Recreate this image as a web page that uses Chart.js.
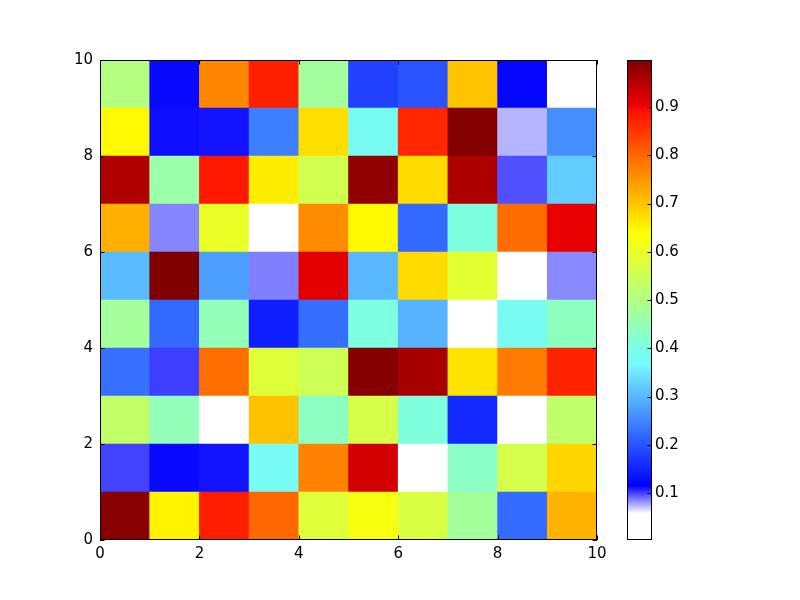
<!DOCTYPE html>
<html>
<head>
<meta charset="utf-8">
<script src="https://cdn.jsdelivr.net/npm/chart.js@4.4.0/dist/chart.umd.min.js"></script>
<style>
  html, body { margin: 0; padding: 0; background: #fff; }
  #wrap { position: relative; width: 800px; height: 600px; }
  #heat { position: absolute; left: 0; top: 0; }
  #cbar { position: absolute; left: 600px; top: 0; }
</style>
</head>
<body>
<div id="wrap">
  <canvas id="heat" width="800" height="600"></canvas>
  <canvas id="cbar" width="200" height="600"></canvas>
</div>
<script>
// cell values, one array per row, bottom row (y 0..1) first
const row0 = [0.990, 0.652, 0.875, 0.799, 0.579, 0.625, 0.570, 0.477, 0.222, 0.719];
const row1 = [0.100, 0.113, 0.111, 0.379, 0.770, 0.927, 0.050, 0.430, 0.562, 0.681];
const row2 = [0.531, 0.445, 0.0026, 0.703, 0.434, 0.563, 0.408, 0.154, 0.035, 0.528];
const row3 = [0.228, 0.101, 0.791, 0.578, 0.551, 0.993, 0.965, 0.669, 0.778, 0.871];
const row4 = [0.476, 0.221, 0.446, 0.146, 0.227, 0.404, 0.296, 0.010, 0.383, 0.438];
const row5 = [0.304, 0.9975, 0.276, 0.086, 0.912, 0.300, 0.677, 0.587, 0.040, 0.084];
const row6 = [0.723, 0.085, 0.600, 0.020, 0.761, 0.646, 0.221, 0.405, 0.793, 0.908];
const row7 = [0.955, 0.461, 0.882, 0.658, 0.555, 0.983, 0.676, 0.960, 0.097, 0.320];
const row8 = [0.647, 0.112, 0.111, 0.243, 0.673, 0.383, 0.867, 0.996, 0.074, 0.259];
const row9 = [0.505, 0.113, 0.766, 0.873, 0.474, 0.182, 0.199, 0.702, 0.114, 0.030];
const values = [row0, row1, row2, row3, row4, row5, row6, row7, row8, row9];

const xTicks = [0, 2, 4, 6, 8, 10];
const yTicks = [0, 2, 4, 6, 8, 10];
const cbarTicks = [0.1, 0.2, 0.3, 0.4, 0.5, 0.6, 0.7, 0.8, 0.9];

// colormap (white -> blue -> cyan -> yellow -> red -> dark red)
const cmapPos = [0, 0.055, 0.113, 0.365, 0.395, 0.64, 0.89, 0.91, 1];
const cmapCol = ['#ffffff', '#ffffff', '#0000ff', '#78f8ff', '#78ffe8', '#ffff00', '#ff1200', '#e80000', '#800000'];

const all = values.flat();
const vmin = Math.min(...all), vmax = Math.max(...all);

function hexRgb(h) {
  return [parseInt(h.substr(1, 2), 16), parseInt(h.substr(3, 2), 16), parseInt(h.substr(5, 2), 16)];
}
function colorOf(v) {
  const t = (v - vmin) / (vmax - vmin);
  let i = 0;
  while (i < cmapPos.length - 2 && t > cmapPos[i + 1]) i++;
  const f = Math.max(0, Math.min(1, (t - cmapPos[i]) / (cmapPos[i + 1] - cmapPos[i])));
  const a = hexRgb(cmapCol[i]), b = hexRgb(cmapCol[i + 1]);
  const c = a.map((x, k) => Math.round(x + (b[k] - x) * f));
  return 'rgb(' + c.join(',') + ')';
}

Chart.defaults.font.family = "'DejaVu Sans', sans-serif";
Chart.defaults.font.size = 15;
Chart.defaults.color = '#000';

// black frame + inward tick marks, like the matplotlib axes
function frameTicks(opt) {
  return {
    id: 'frameTicks',
    afterDatasetsDraw(chart) {
      const {ctx, chartArea: a, scales} = chart;
      const len = 4.5;
      ctx.save();
      ctx.strokeStyle = '#000';
      ctx.lineWidth = 1;
      ctx.beginPath();
      (opt.x || []).forEach(v => {
        const px = Math.round(scales.x.getPixelForValue(v)) + 0.5;
        ctx.moveTo(px, a.bottom); ctx.lineTo(px, a.bottom - len);
        ctx.moveTo(px, a.top); ctx.lineTo(px, a.top + len);
      });
      (opt.y || []).forEach(v => {
        const py = Math.round(scales.y.getPixelForValue(v)) + 0.5;
        if (opt.left) { ctx.moveTo(a.left, py); ctx.lineTo(a.left + len, py); }
        ctx.moveTo(a.right, py); ctx.lineTo(a.right - len, py);
      });
      ctx.stroke();
      ctx.strokeRect(Math.round(a.left) + 0.5, Math.round(a.top) + 0.5,
        Math.round(a.right - a.left) - 1, Math.round(a.bottom - a.top) - 1);
      ctx.restore();
    }
  };
}

const datasets = values.map((row, r) => ({
  data: row.map((v, c) => ({x: c + 0.5, y: [r, r + 1]})),
  backgroundColor: row.map(colorOf),
  borderWidth: 0,
  barPercentage: 1,
  categoryPercentage: 1,
  grouped: false
}));

new Chart(document.getElementById('heat'), {
  type: 'bar',
  data: {datasets: datasets},
  options: {
    responsive: false,
    animation: false,
    layout: {padding: {left: 60, right: 203, top: 60, bottom: 30}},
    plugins: {legend: {display: false}, tooltip: {enabled: false}},
    scales: {
      x: {
        type: 'linear', min: 0, max: 10, offset: false,
        afterBuildTicks: s => { s.ticks = xTicks.map(v => ({value: v})); },
        ticks: {padding: 5, color: '#000'},
        grid: {display: false, drawTicks: false, tickLength: 0},
        border: {display: false},
        afterFit: s => { s.height = 30; }
      },
      y: {
        type: 'linear', min: 0, max: 10,
        afterBuildTicks: s => { s.ticks = yTicks.map(v => ({value: v})); },
        ticks: {padding: 7, color: '#000'},
        grid: {display: false, drawTicks: false, tickLength: 0},
        border: {display: false},
        afterFit: s => { s.width = 40; }
      }
    }
  },
  plugins: [frameTicks({x: xTicks, y: yTicks, left: true})]
});

function cbarGradient(chart) {
  const {ctx, chartArea, scales} = chart;
  if (!chartArea) return '#fff';
  const g = ctx.createLinearGradient(0, scales.y.getPixelForValue(vmin), 0, scales.y.getPixelForValue(vmax));
  cmapPos.forEach((p, i) => g.addColorStop(p, cmapCol[i]));
  return g;
}

new Chart(document.getElementById('cbar'), {
  type: 'bar',
  data: {
    labels: [''],
    datasets: [{
      data: [[vmin, vmax]],
      backgroundColor: c => cbarGradient(c.chart),
      borderWidth: 0,
      barPercentage: 1,
      categoryPercentage: 1
    }]
  },
  options: {
    responsive: false,
    animation: false,
    layout: {padding: {left: 27, right: 108, top: 60, bottom: 60}},
    plugins: {legend: {display: false}, tooltip: {enabled: false}},
    scales: {
      x: {display: false},
      y: {
        position: 'right', min: vmin, max: vmax,
        afterBuildTicks: s => { s.ticks = cbarTicks.map(v => ({value: v})); },
        ticks: {padding: 3, color: '#000', callback: v => v.toFixed(1)},
        grid: {display: false, drawTicks: false, tickLength: 0},
        border: {display: false},
        afterFit: s => { s.width = 40; }
      }
    }
  },
  plugins: [frameTicks({y: cbarTicks, left: false})]
});
</script>
</body>
</html>
